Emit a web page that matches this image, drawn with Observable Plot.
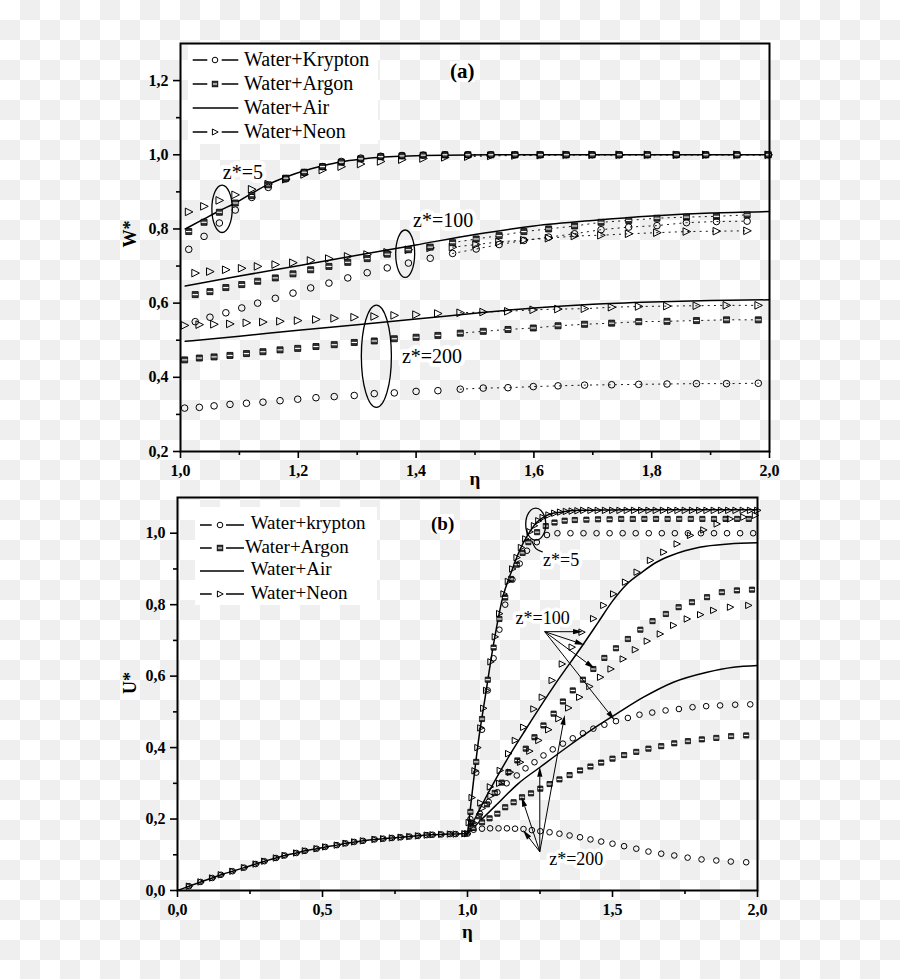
<!DOCTYPE html>
<html>
<head>
<meta charset="utf-8">
<script src="https://cdn.jsdelivr.net/npm/d3@7"></script>
<script src="https://cdn.jsdelivr.net/npm/@observablehq/plot@0.6"></script>
<style>
html,body{margin:0;padding:0}
body{width:900px;height:979px;overflow:hidden;position:relative;background-color:#fff;
  background-image:repeating-conic-gradient(#efefef 0% 25%, #ffffff 0% 50%);background-size:40px 40px;
  font-family:"Liberation Serif","Times New Roman",serif}
#pa{position:absolute;left:0;top:0}
#pb{position:absolute;left:0;top:490px}
.leg{position:absolute;background:#fff}
.leg svg{position:absolute;left:0}
.leg span{position:absolute;white-space:nowrap;color:#000}
.tag{position:absolute;font-weight:bold;white-space:nowrap;background:#fff;line-height:1}
</style>
</head>
<body>
<div id="pa"></div>
<div id="pb"></div>
<div id="legA" class="leg" style="left:188px;top:45px;width:190px;height:99px"></div>
<div id="legB" class="leg" style="left:195px;top:507px;width:182px;height:98px"></div>
<div class="tag" style="left:450px;top:61px;font-size:21px">(a)</div>
<div class="tag" style="left:431px;top:514px;font-size:19px">(b)</div>
<script>
// ================= Panel (a): W* versus eta =================
const xTicksA = [1.0, 1.2, 1.4, 1.6, 1.8, 2.0];
const xTickLabelsA = ["1,0", "1,2", "1,4", "1,6", "1,8", "2,0"];
const xMinorA = [1.1, 1.3, 1.5, 1.7, 1.9];
const yTicksA = [0.2, 0.4, 0.6, 0.8, 1.0, 1.2];
const yTickLabelsA = ["0,2", "0,4", "0,6", "0,8", "1,0", "1,2"];
const yMinorA = [0.3, 0.5, 0.7, 0.9, 1.1];

// z* = 5
const etaA5 = [1.014,1.040,1.066,1.093,1.121,1.149,1.179,1.210,1.241,1.273,1.306,1.340,1.376,1.412,1.449,1.488,1.527,1.568,1.611,1.655,1.699,1.745,1.793,1.842,1.892,1.945,1.998];
const kryptonA5 = [0.745,0.780,0.816,0.851,0.885,0.912,0.935,0.952,0.968,0.982,0.991,0.996,0.998,0.999,1.0,1.0,1.0,1.0,1.0,1.0,1.0,1.0,1.0,1.0,1.0,1.0,1.0];
const argonA5 = [0.793,0.818,0.845,0.870,0.890,0.919,0.937,0.953,0.968,0.980,0.989,0.995,0.997,0.999,1.0,1.0,1.0,1.0,1.0,1.0,1.0,1.0,1.0,1.0,1.0,1.0,1.0];
const neonA5 = [0.846,0.861,0.877,0.892,0.907,0.921,0.934,0.947,0.959,0.968,0.975,0.982,0.987,0.990,0.993,0.995,0.997,0.998,0.999,1.0,1.0,1.0,1.0,1.0,1.0,1.0,1.0];
const airEtaA5 = [1.008,1.040,1.066,1.093,1.121,1.149,1.179,1.210,1.241,1.273,1.306,1.340,1.376,1.412,1.449,1.527,1.611,1.7,1.8,1.9,2.0];
const airA5 = [0.800,0.827,0.849,0.870,0.896,0.920,0.940,0.957,0.970,0.981,0.988,0.993,0.996,0.998,0.999,1.0,1.0,1.0,1.0,1.0,1.0];

// z* = 100
const etaA100 = [1.025,1.050,1.077,1.104,1.131,1.161,1.191,1.221,1.252,1.284,1.317,1.351,1.387,1.424,1.462,1.502,1.541,1.583,1.625,1.669,1.714,1.761,1.809,1.859,1.910,1.962];
const kryptonA100 = [0.550,0.562,0.574,0.587,0.600,0.613,0.627,0.641,0.654,0.668,0.682,0.695,0.708,0.721,0.734,0.746,0.758,0.769,0.778,0.787,0.798,0.805,0.809,0.817,0.820,0.821];
const argonA100 = [0.623,0.631,0.642,0.650,0.659,0.668,0.679,0.690,0.699,0.710,0.720,0.732,0.744,0.751,0.763,0.773,0.782,0.793,0.800,0.808,0.818,0.823,0.829,0.832,0.834,0.838];
const neonA100 = [0.681,0.685,0.690,0.694,0.699,0.704,0.709,0.715,0.720,0.726,0.731,0.737,0.744,0.749,0.751,0.758,0.765,0.770,0.775,0.781,0.783,0.787,0.790,0.793,0.794,0.795];
const airEtaA100 = [1.008,1.1,1.2,1.3,1.4,1.5,1.6,1.7,1.8,1.9,2.0];
const airA100 = [0.646,0.673,0.701,0.729,0.757,0.785,0.808,0.823,0.835,0.843,0.847];

// z* = 200
const etaA200 = [1.007,1.032,1.057,1.084,1.112,1.140,1.169,1.199,1.230,1.261,1.295,1.329,1.363,1.400,1.437,1.475,1.514,1.556,1.599,1.641,1.686,1.732,1.778,1.826,1.876,1.927,1.981];
const kryptonA200 = [0.317,0.319,0.323,0.327,0.330,0.333,0.337,0.341,0.345,0.348,0.351,0.356,0.358,0.362,0.364,0.368,0.371,0.372,0.375,0.377,0.379,0.380,0.381,0.382,0.383,0.383,0.384];
const argonA200 = [0.447,0.452,0.455,0.459,0.464,0.469,0.474,0.478,0.483,0.488,0.494,0.498,0.504,0.508,0.513,0.519,0.524,0.529,0.533,0.539,0.543,0.546,0.550,0.551,0.553,0.555,0.555];
const neonA200 = [0.540,0.542,0.543,0.544,0.547,0.549,0.551,0.553,0.556,0.559,0.562,0.564,0.567,0.569,0.572,0.574,0.576,0.578,0.582,0.584,0.585,0.589,0.591,0.592,0.593,0.594,0.594];
const airEtaA200 = [1.008,1.1,1.2,1.3,1.4,1.5,1.6,1.7,1.8,1.9,2.0];
const airA200 = [0.497,0.511,0.527,0.542,0.557,0.573,0.587,0.597,0.603,0.607,0.609];

// annotations (a), in data units
const noteTextA = ["z*=5", "z*=100", "z*=200"];
const noteEtaA = [1.106, 1.446, 1.427];
const noteVA = [0.952, 0.823, 0.456];
const ellEtaA = [1.0714, 1.3823, 1.3334];
const ellVA = [0.853, 0.732, 0.4555];
const ellRxA = [0.0173, 0.0161, 0.0255];
const ellRyA = [0.0639, 0.0639, 0.138];

// ================= Panel (b): U* versus eta =================
const xTicksB = [0.0, 0.5, 1.0, 1.5, 2.0];
const xTickLabelsB = ["0,0", "0,5", "1,0", "1,5", "2,0"];
const xMinorB = [0.25, 0.75, 1.25, 1.75];
const yTicksB = [0.0, 0.2, 0.4, 0.6, 0.8, 1.0];
const yTickLabelsB = ["0,0", "0,2", "0,4", "0,6", "0,8", "1,0"];
const yMinorB = [0.1, 0.3, 0.5, 0.7, 0.9];

// common inner region (0 <= eta <= 1), all fluids coincide
const etaIn = [0.00,0.04,0.08,0.12,0.15,0.19,0.23,0.27,0.30,0.34,0.37,0.41,0.44,0.48,0.51,0.55,0.58,0.61,0.64,0.68,0.71,0.74,0.77,0.80,0.83,0.86,0.88,0.91,0.94,0.96,0.99,1.0];
const vIn = [0.000,0.012,0.024,0.035,0.044,0.054,0.064,0.074,0.082,0.091,0.098,0.105,0.111,0.117,0.122,0.127,0.132,0.136,0.139,0.143,0.145,0.147,0.149,0.151,0.153,0.155,0.156,0.157,0.158,0.158,0.159,0.159];

// z* = 5
const airEtaB5 = [1.0,1.021,1.038,1.061,1.090,1.119,1.153,1.182,1.210,1.239,1.274,1.320,1.389,1.5,1.7,2.0];
const airB5 = [0.159,0.308,0.420,0.541,0.690,0.812,0.896,0.956,0.998,1.031,1.050,1.059,1.064,1.065,1.066,1.066];
const neonEtaB5 = [1.005,1.015,1.025,1.035,1.045,1.055,1.065,1.080,1.095,1.110,1.125,1.140,1.155,1.170,1.185,1.200,1.215,1.230,1.245,1.260,1.280,1.300,1.320,1.340,1.360,1.380,1.400,1.425,1.450,1.475,1.500,1.525,1.550,1.575,1.600,1.625,1.650,1.675,1.700,1.725,1.750,1.775,1.800,1.825,1.850,1.875,1.900,1.925,1.950,1.975,2.000];
const neonB5 = [0.19,0.26,0.335,0.40,0.455,0.51,0.56,0.64,0.71,0.775,0.83,0.865,0.90,0.932,0.96,0.984,1.004,1.021,1.035,1.044,1.051,1.056,1.059,1.061,1.062,1.063,1.064,1.064,1.064,1.064,1.064,1.064,1.064,1.064,1.064,1.064,1.064,1.064,1.064,1.064,1.064,1.064,1.064,1.064,1.064,1.064,1.064,1.064,1.064,1.064,1.064];
const argonEtaB5 = [1.010,1.030,1.050,1.070,1.090,1.110,1.130,1.150,1.170,1.190,1.210,1.240,1.270,1.300,1.335,1.370,1.410,1.450,1.490,1.530,1.570,1.610,1.650,1.690,1.730,1.770,1.810,1.850,1.890,1.930,1.970];
const argonB5 = [0.22,0.36,0.48,0.59,0.68,0.76,0.82,0.872,0.912,0.945,0.975,1.003,1.020,1.030,1.035,1.037,1.038,1.039,1.039,1.040,1.040,1.040,1.040,1.040,1.040,1.040,1.040,1.040,1.040,1.040,1.040];
const kryptonEtaB5 = [1.010,1.030,1.050,1.070,1.090,1.110,1.130,1.155,1.180,1.205,1.239,1.274,1.310,1.355,1.400,1.445,1.490,1.535,1.580,1.625,1.670,1.715,1.760,1.805,1.850,1.895,1.940,1.985];
const kryptonB5 = [0.20,0.33,0.45,0.56,0.65,0.73,0.80,0.87,0.915,0.951,0.975,0.995,1.0,1.0,1.0,1.0,1.0,1.0,1.0,1.0,1.0,1.0,1.0,1.0,1.0,1.0,1.0,1.0];

// z* = 100
const airEtaB100 = [1.0,1.05,1.1,1.15,1.2,1.3,1.4,1.45,1.5,1.55,1.6,1.65,1.7,1.75,1.8,1.9,2.0];
const airB100 = [0.159,0.24,0.315,0.385,0.45,0.575,0.69,0.75,0.81,0.858,0.89,0.918,0.937,0.951,0.961,0.970,0.973];
const neonEtaB100 = [1.015,1.045,1.078,1.112,1.141,1.164,1.193,1.228,1.257,1.291,1.326,1.360,1.394,1.434,1.469,1.503,1.544,1.584,1.630,1.676,1.722,1.768,1.814,1.860,1.906,1.952,1.992];
const neonB100 = [0.19,0.245,0.29,0.336,0.383,0.420,0.457,0.508,0.541,0.588,0.634,0.681,0.723,0.761,0.798,0.830,0.863,0.891,0.924,0.947,0.970,0.994,1.009,1.026,1.040,1.045,1.050];
const argonEtaB100 = [1.013,1.040,1.067,1.094,1.118,1.141,1.172,1.201,1.231,1.262,1.297,1.329,1.363,1.398,1.434,1.472,1.512,1.553,1.596,1.638,1.684,1.728,1.774,1.826,1.877,1.929,1.981];
const argonB100 = [0.175,0.208,0.241,0.273,0.302,0.331,0.364,0.397,0.429,0.462,0.495,0.529,0.560,0.590,0.620,0.651,0.678,0.704,0.730,0.754,0.774,0.793,0.807,0.821,0.835,0.840,0.842];
const kryptonEtaB100 = [1.013,1.043,1.073,1.103,1.135,1.170,1.200,1.231,1.262,1.294,1.329,1.363,1.398,1.434,1.472,1.512,1.553,1.593,1.637,1.683,1.729,1.776,1.823,1.871,1.923,1.975];
const kryptonB100 = [0.180,0.215,0.248,0.275,0.300,0.322,0.342,0.359,0.378,0.395,0.411,0.426,0.440,0.453,0.464,0.474,0.483,0.492,0.498,0.504,0.508,0.513,0.516,0.518,0.520,0.521];

// z* = 200
const airEtaB200 = [1.0,1.05,1.1,1.176,1.25,1.343,1.434,1.515,1.607,1.71,1.826,1.917,2.0];
const airB200 = [0.159,0.20,0.24,0.30,0.345,0.401,0.453,0.495,0.541,0.583,0.611,0.625,0.630];
const neonEtaB200 = [1.020,1.050,1.080,1.110,1.147,1.182,1.214,1.245,1.279,1.314,1.348,1.386,1.421,1.458,1.494,1.536,1.578,1.619,1.664,1.710,1.757,1.803,1.848,1.906,1.969];
const neonB200 = [0.190,0.230,0.265,0.300,0.331,0.359,0.390,0.420,0.450,0.481,0.511,0.541,0.571,0.597,0.620,0.648,0.674,0.698,0.718,0.742,0.760,0.772,0.784,0.793,0.798];
const argonEtaB200 = [1.020,1.050,1.076,1.103,1.130,1.159,1.188,1.219,1.251,1.283,1.317,1.352,1.388,1.424,1.461,1.500,1.540,1.582,1.624,1.668,1.713,1.760,1.808,1.858,1.909,1.961];
const argonB200 = [0.175,0.191,0.202,0.215,0.233,0.247,0.261,0.272,0.285,0.298,0.311,0.323,0.336,0.347,0.358,0.369,0.379,0.388,0.397,0.404,0.412,0.418,0.423,0.427,0.432,0.434];
const kryptonEtaB200 = [1.021,1.050,1.078,1.107,1.136,1.164,1.193,1.222,1.251,1.283,1.317,1.352,1.388,1.424,1.461,1.500,1.540,1.582,1.624,1.668,1.713,1.759,1.807,1.858,1.908,1.961];
const kryptonB200 = [0.170,0.173,0.174,0.174,0.174,0.173,0.172,0.169,0.166,0.163,0.159,0.154,0.149,0.143,0.137,0.131,0.124,0.117,0.109,0.103,0.098,0.092,0.087,0.084,0.081,0.079];

// annotations (b), in data units
const noteTextB = ["z*=5", "z*=100", "z*=200"];
const noteEtaB = [1.323, 1.259, 1.375];
const noteVB = [0.924, 0.761, 0.087];
const ellEtaB = [1.237];
const ellVB = [1.024];
const ellRxB = [0.0345];
const ellRyB = [0.0448];
const tailEtaB = [1.222, 1.236, 1.258];
const tailVB = [0.978, 0.957, 0.948];
const arrowFromEtaB = [1.268, 1.268, 1.268, 1.268, 1.251, 1.251, 1.251, 1.251];
const arrowFromVB = [0.723, 0.723, 0.723, 0.723, 0.107, 0.107, 0.107, 0.107];
const arrowToEtaB = [1.400, 1.406, 1.440, 1.509, 1.193, 1.188, 1.251, 1.337];
const arrowToVB = [0.723, 0.686, 0.620, 0.475, 0.168, 0.261, 0.345, 0.490];

const legendNames = ["Water+Krypton", "Water+Argon", "Water+Air", "Water+Neon"];
const legendNamesB = ["Water+krypton", "Water+Argon", "Water+Air", "Water+Neon"];

// ---------------- helpers ----------------
const rows = (etas, vals) => etas.map((e, i) => ({eta: e, v: vals[i]}));
const labelFmt = (ticks, labels) => { const m = new Map(ticks.map((t, i) => [t, labels[i]])); return d => m.get(d) ?? ""; };
const FONT = "Liberation Serif, Times New Roman, serif";

const triangleRight = {draw(ctx, size) { const r = Math.sqrt(size / Math.PI); ctx.moveTo(-0.9 * r, -r); ctx.lineTo(1.1 * r, 0); ctx.lineTo(-0.9 * r, r); ctx.closePath(); }};
const midBar = {draw(ctx, size) { const r = Math.sqrt(size / Math.PI); ctx.moveTo(-0.8 * r, 0); ctx.lineTo(0.8 * r, 0); }};

function markers(data, kind, r) {
  const b = {x: "eta", y: "v"};
  if (kind === "circle") return [Plot.dot(data, {...b, r, stroke: "black", strokeWidth: 1, fill: "none"})];
  if (kind === "square") return [
    Plot.dot(data, {...b, r, symbol: "square", fill: "#333", stroke: "black", strokeWidth: 0.8}),
    Plot.dot(data, {...b, r, symbol: midBar, fill: "none", stroke: "white", strokeWidth: 1.1})
  ];
  return [Plot.dot(data, {...b, r, symbol: triangleRight, stroke: "black", strokeWidth: 1, fill: "none"})];
}

function ellipseMark(etas, vs, rxs, rys) {
  return (index, scales) => {
    const g = d3.create("svg:g");
    etas.forEach((e, i) => {
      const cx = scales.x(e), cy = scales.y(vs[i]);
      g.append("ellipse").attr("cx", cx).attr("cy", cy)
        .attr("rx", Math.abs(scales.x(e + rxs[i]) - cx)).attr("ry", Math.abs(scales.y(vs[i] + rys[i]) - cy))
        .attr("fill", "none").attr("stroke", "black").attr("stroke-width", 1.3);
    });
    return g.node();
  };
}

function arrowMark(x1s, y1s, x2s, y2s) {
  return (index, scales) => {
    const g = d3.create("svg:g");
    x1s.forEach((x1v, i) => {
      const x1 = scales.x(x1v), y1 = scales.y(y1s[i]), x2 = scales.x(x2s[i]), y2 = scales.y(y2s[i]);
      const a = Math.atan2(y2 - y1, x2 - x1), L = 10, W = 2.6;
      const bx = x2 - L * Math.cos(a), by = y2 - L * Math.sin(a);
      g.append("line").attr("x1", x1).attr("y1", y1).attr("x2", bx).attr("y2", by).attr("stroke", "black").attr("stroke-width", 1);
      g.append("path").attr("d", `M${x2},${y2}L${bx + W * Math.sin(a)},${by - W * Math.cos(a)}L${bx - W * Math.sin(a)},${by + W * Math.cos(a)}Z`).attr("fill", "black");
    });
    return g.node();
  };
}

function axes(xT, xL, xM, yT, yL, yM) {
  return [
    Plot.axisX({ticks: xM, tickSize: 4, tickFormat: () => "", strokeWidth: 1.6, label: null}),
    Plot.axisY({ticks: yM, tickSize: 4, tickFormat: () => "", strokeWidth: 1.6, label: null}),
    Plot.axisX({ticks: xT, tickSize: 7, tickPadding: 6, tickFormat: labelFmt(xT, xL), strokeWidth: 1.6, label: null, fontSize: 16, fontWeight: "bold"}),
    Plot.axisY({ticks: yT, tickSize: 7, tickPadding: 5, tickFormat: labelFmt(yT, yL), strokeWidth: 1.6, label: null, fontSize: 16, fontWeight: "bold"}),
    Plot.frame({stroke: "black", strokeWidth: 2})
  ];
}

const style = {background: "transparent", fontFamily: FONT, fontSize: "16px", fontWeight: "bold", overflow: "visible"};
const L = {x: "eta", y: "v", stroke: "black", strokeWidth: 1.5, curve: "monotone-x"};
const DOT = {x: "eta", y: "v", stroke: "black", strokeWidth: 0.9, strokeDasharray: "1.2,5", filter: d => d.eta >= 1.45};

// ---------------- Panel (a) ----------------
const a5K = rows(etaA5, kryptonA5), a5A = rows(etaA5, argonA5), a5N = rows(etaA5, neonA5);
const a100K = rows(etaA100, kryptonA100), a100A = rows(etaA100, argonA100), a100N = rows(etaA100, neonA100);
const a200K = rows(etaA200, kryptonA200), a200A = rows(etaA200, argonA200), a200N = rows(etaA200, neonA200);
const notesA = noteTextA.map((t, i) => ({label: t, eta: noteEtaA[i], v: noteVA[i]}));

const plotA = Plot.plot({
  width: 900, height: 490, marginLeft: 180, marginRight: 131, marginTop: 43, marginBottom: 39,
  x: {domain: [1, 2], label: null}, y: {domain: [0.2, 1.3], label: null}, style,
  marks: [
    ...[a5K, a5A, a5N, a100K, a100A, a100N, a200K, a200A, a200N].map(d => Plot.line(d, DOT)),
    Plot.line(rows(airEtaA5, airA5), L),
    Plot.line(rows(airEtaA100, airA100), L),
    Plot.line(rows(airEtaA200, airA200), L),
    ...markers(a5N, "tri", 3.8), ...markers(a5A, "square", 3.4), ...markers(a5K, "circle", 3.3),
    ...markers(a100N, "tri", 3.8), ...markers(a100A, "square", 3.4), ...markers(a100K, "circle", 3.3),
    ...markers(a200N, "tri", 3.8), ...markers(a200A, "square", 3.4), ...markers(a200K, "circle", 3.3),
    Plot.text(notesA, {x: "eta", y: "v", text: "label", fontSize: 20, fontWeight: "normal", fill: "black", stroke: "white", strokeWidth: 8}),
    ellipseMark(ellEtaA, ellVA, ellRxA, ellRyA),
    ...axes(xTicksA, xTickLabelsA, xMinorA, yTicksA, yTickLabelsA, yMinorA),
    Plot.text(["W*"], {frameAnchor: "left", dx: -50, rotate: -90, fontSize: 18, fontWeight: "bold"}),
    Plot.text(["η"], {frameAnchor: "bottom", dy: 33, fontSize: 19, fontWeight: "bold"})
  ]
});
document.getElementById("pa").appendChild(plotA);

// ---------------- Panel (b) ----------------
const inner = rows(etaIn, vIn);
const notesB = noteTextB.map((t, i) => ({label: t, eta: noteEtaB[i], v: noteVB[i]}));

const plotB = Plot.plot({
  width: 900, height: 489, marginLeft: 177, marginRight: 143, marginTop: 7, marginBottom: 89,
  x: {domain: [0, 2], label: null}, y: {domain: [0, 1.1], label: null}, style,
  marks: [
    Plot.line(inner, L),
    Plot.line(rows(airEtaB5, airB5), L),
    Plot.line(rows(airEtaB100, airB100), L),
    Plot.line(rows(airEtaB200, airB200), L),
    ...markers(inner.filter(d => d.eta > 0), "circle", 2.8),
    ...markers(inner.filter(d => d.eta > 0), "tri", 3.2),
    ...markers(rows(argonEtaB5, argonB5), "square", 2.9),
    ...markers(rows(kryptonEtaB5, kryptonB5), "circle", 2.8),
    ...markers(rows(neonEtaB5, neonB5), "tri", 3.2),
    ...markers(rows(neonEtaB100, neonB100), "tri", 3.2),
    ...markers(rows(argonEtaB100, argonB100), "square", 2.9),
    ...markers(rows(kryptonEtaB100, kryptonB100), "circle", 2.8),
    ...markers(rows(neonEtaB200, neonB200), "tri", 3.2),
    ...markers(rows(argonEtaB200, argonB200), "square", 2.9),
    ...markers(rows(kryptonEtaB200, kryptonB200), "circle", 2.8),
    Plot.line(rows(tailEtaB, tailVB), {x: "eta", y: "v", stroke: "black", strokeWidth: 1.2, curve: "natural"}),
    ellipseMark(ellEtaB, ellVB, ellRxB, ellRyB),
    arrowMark(arrowFromEtaB, arrowFromVB, arrowToEtaB, arrowToVB),
    Plot.text(notesB, {x: "eta", y: "v", text: "label", fontSize: 18, fontWeight: "normal", fill: "black", stroke: "white", strokeWidth: 7}),
    ...axes(xTicksB, xTickLabelsB, xMinorB, yTicksB, yTickLabelsB, yMinorB),
    Plot.text(["U*"], {frameAnchor: "left", dx: -47, rotate: -90, fontSize: 18, fontWeight: "bold"}),
    Plot.text(["η"], {frameAnchor: "bottom", dy: 47, fontSize: 19, fontWeight: "bold"})
  ]
});
document.getElementById("pb").appendChild(plotB);

// ---------------- legends ----------------
function sample(kind, x0, xm, x1, gapL, gapR) {
  let s = "";
  if (kind === "line") s += `<line x1="${x0}" y1="8" x2="${x1}" y2="8" stroke="black" stroke-width="1.5"/>`;
  else {
    s += `<line x1="${x0}" y1="8" x2="${gapL}" y2="8" stroke="black" stroke-width="1.5"/>`;
    s += `<line x1="${gapR}" y1="8" x2="${x1}" y2="8" stroke="black" stroke-width="1.5"/>`;
    if (kind === "circle") s += `<circle cx="${xm}" cy="8" r="2.8" fill="none" stroke="black"/>`;
    if (kind === "square") s += `<rect x="${xm - 2.8}" y="5.2" width="5.6" height="5.6" fill="#333" stroke="black" stroke-width="0.8"/><line x1="${xm - 2}" y1="8" x2="${xm + 2}" y2="8" stroke="white" stroke-width="1.1"/>`;
    if (kind === "tri") s += `<path d="M${xm - 2.6},${5}L${xm + 3.2},8L${xm - 2.6},11Z" fill="none" stroke="black"/>`;
  }
  return s;
}
const kinds = ["circle", "square", "line", "tri"];
function buildLegend(id, names, rowsY, textX, fs, geo) {
  const el = document.getElementById(id);
  names.forEach((n, i) => {
    const svg = document.createElementNS("http://www.w3.org/2000/svg", "svg");
    svg.setAttribute("width", 60); svg.setAttribute("height", 16);
    svg.style.top = (rowsY[i] - 8) + "px";
    svg.innerHTML = sample(kinds[i], ...geo);
    el.appendChild(svg);
    const sp = document.createElement("span");
    sp.textContent = n;
    sp.style.left = textX[i] + "px";
    sp.style.top = (rowsY[i] - fs * 0.66) + "px";
    sp.style.fontSize = fs + "px";
    sp.style.lineHeight = (fs * 1.2) + "px";
    el.appendChild(sp);
  });
}
buildLegend("legA", legendNames, [15, 39.3, 63.3, 86.7], [56, 56, 56, 56], 20, [4.7, 27, 50.3, 19.3, 33.7]);
buildLegend("legB", legendNamesB, [18, 41.3, 64, 87.3], [55.7, 50, 55.7, 55.7], 19, [5, 25, 49, 16.7, 31]);
</script>
</body>
</html>
